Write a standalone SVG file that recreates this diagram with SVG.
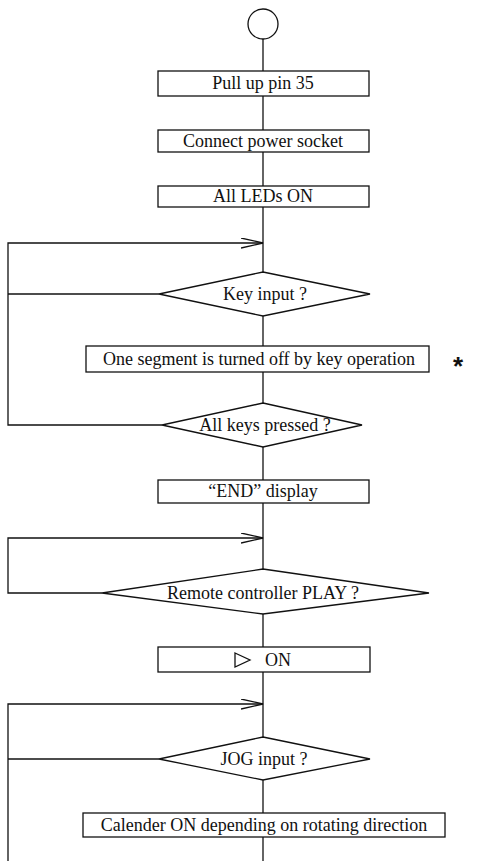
<svg xmlns="http://www.w3.org/2000/svg" width="488" height="861" viewBox="0 0 488 861">
<style>
.s{fill:#fff;stroke:#111;stroke-width:1.3}
.c{fill:none;stroke:#111;stroke-width:1.3}
.t{font-family:"Liberation Serif","Times New Roman",serif;font-size:18px;fill:#111;text-anchor:middle}
.star{font-family:"Liberation Sans",Arial,sans-serif;font-size:26px;font-weight:bold;fill:#111;text-anchor:middle}
</style>
<defs>
<marker id="open" markerWidth="24" markerHeight="12" refX="22" refY="5" orient="auto" markerUnits="userSpaceOnUse">
<path d="M0,0 L22,5 L0,10" fill="none" stroke="#111" stroke-width="1.3"/>
</marker>
</defs>
<rect width="488" height="861" fill="#fff"/>
<g id="connectors">
<line class="c" x1="263" y1="39" x2="263" y2="71"/>
<line class="c" x1="263" y1="96" x2="263" y2="130"/>
<line class="c" x1="263" y1="152" x2="263" y2="186"/>
<line class="c" x1="263" y1="207" x2="263" y2="272"/>
<line class="c" x1="263" y1="316" x2="263" y2="346"/>
<line class="c" x1="263" y1="372" x2="263" y2="403"/>
<line class="c" x1="263" y1="447" x2="263" y2="480"/>
<line class="c" x1="263" y1="503" x2="263" y2="569"/>
<line class="c" x1="263" y1="614" x2="263" y2="647"/>
<line class="c" x1="263" y1="672" x2="263" y2="737"/>
<line class="c" x1="263" y1="780" x2="263" y2="813"/>
<line class="c" x1="263" y1="837" x2="263" y2="861"/>
<polyline class="c" points="162,425 8,425 8,243 263,243" marker-end="url(#open)"/>
<line class="c" x1="159" y1="294" x2="8" y2="294"/>
<polyline class="c" points="102,593 8,593 8,538 263,538" marker-end="url(#open)"/>
<polyline class="c" points="8,861 8,704 263,704" marker-end="url(#open)"/>
<line class="c" x1="159" y1="759" x2="8" y2="759"/>
</g>
<g id="start"><circle class="s" cx="263" cy="24" r="15"/></g>
<g id="pullup"><rect class="s" x="158" y="71" width="211" height="25"/><text class="t" x="263" y="89">Pull up pin 35</text></g>
<g id="power"><rect class="s" x="158" y="130" width="211" height="22"/><text class="t" x="263" y="147">Connect power socket</text></g>
<g id="leds"><rect class="s" x="158" y="186" width="211" height="21"/><text class="t" x="263" y="202">All LEDs ON</text></g>
<g id="keyinput"><polygon class="s" points="263,272 370,294 263,316 159,294"/><text class="t" x="265" y="300">Key input ?</text></g>
<g id="segment"><rect class="s" x="86" y="346" width="343" height="26"/><text class="t" x="259" y="365">One segment is turned off by key operation</text></g>
<text class="star" x="458" y="375">*</text>
<g id="allkeys"><polygon class="s" points="263,403 362,425 263,447 162,425"/><text class="t" x="265" y="431">All keys pressed ?</text></g>
<g id="end"><rect class="s" x="158" y="480" width="211" height="23"/><text class="t" x="263" y="497">“END” display</text></g>
<g id="play"><polygon class="s" points="263,569 429,593 263,614 102,593"/><text class="t" x="263" y="599">Remote controller PLAY ?</text></g>
<g id="on"><rect class="s" x="158" y="647" width="212" height="25"/><polygon class="c" points="235,653 250,660 235,667"/><text class="t" x="278" y="666">ON</text></g>
<g id="jog"><polygon class="s" points="263,737 370,759 263,780 159,759"/><text class="t" x="264" y="765">JOG input ?</text></g>
<g id="calender"><rect class="s" x="83" y="813" width="362" height="24"/><text class="t" x="264" y="831">Calender ON depending on rotating direction</text></g>
</svg>
